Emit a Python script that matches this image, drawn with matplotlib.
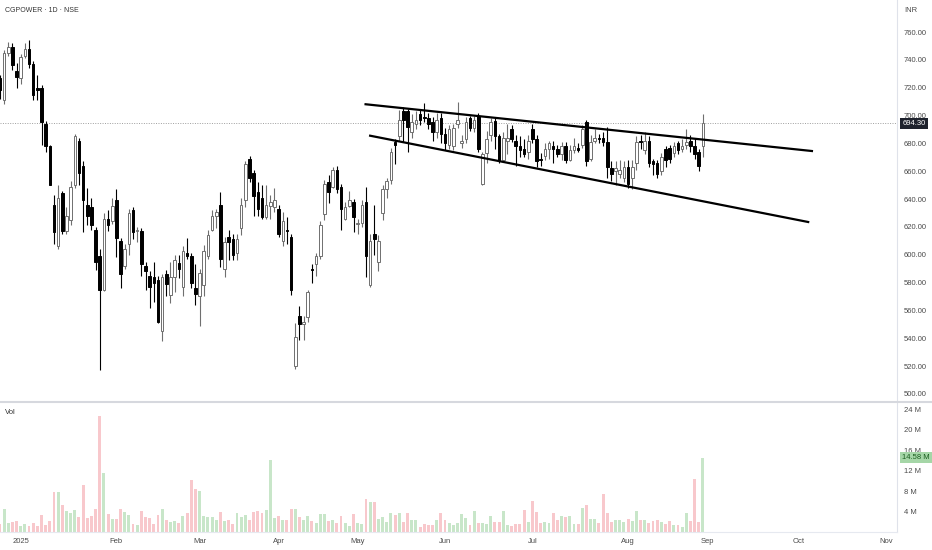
import matplotlib
matplotlib.use("Agg")
from matplotlib import pyplot as plt

plt.rcParams['font.family'] = ['Liberation Sans', 'DejaVu Sans']

# daily candles, index 0 = 1 Jan 2025 (trading days)
first_index = -5
opens = [727, 711, 745, 749, 732, 727, 743, 748, 737, 720, 720, 694, 678, 636, 606, 644, 617, 625, 650, 682,
         664, 636, 634, 618, 599, 575, 626, 624, 639, 610, 592, 608, 632, 617, 617, 592, 585, 584, 582, 545,
         586, 571, 584, 594, 577, 601, 599, 576, 570, 578, 599, 618, 628, 636, 590, 613, 611, 601, 619, 639,
         669, 659, 645, 641, 627, 635, 634, 633, 610, 618, 613, 520, 556, 550, 555, 590, 593, 599, 629, 652,
         649, 661, 649, 626, 635, 638, 622, 623, 638, 578, 615, 595, 630, 647, 654, 681, 685, 703, 703, 688,
         694, 701, 699, 698, 695, 688, 698, 687, 679, 678, 694, 680, 683, 698, 691, 700, 651, 673, 686, 696,
         685, 668, 682, 690, 682, 678, 676, 674, 690, 683, 669, 671, 676, 678, 676, 672, 678, 668, 675, 677,
         679, 695, 669, 682, 684, 684, 681, 662, 660, 658, 655, 663, 655, 666, 682, 675, 682, 667, 666, 660,
         676, 677, 673, 680, 676, 679, 682, 678, 674, 678]
highs = [729, 747, 753, 752, 738, 744, 752, 754, 739, 729, 722, 696, 679, 643, 650, 646, 634, 653, 687, 684,
         667, 648, 641, 620, 604, 630, 632, 641, 647, 612, 608, 633, 634, 620, 619, 595, 588, 595, 585, 586,
         589, 595, 600, 600, 606, 612, 601, 593, 590, 607, 618, 632, 633, 645, 613, 618, 615, 615, 641, 667,
         671, 661, 652, 650, 650, 643, 648, 636, 631, 627, 615, 551, 563, 556, 575, 593, 601, 624, 654, 657,
         663, 664, 651, 638, 646, 640, 626, 639, 649, 615, 636, 614, 650, 655, 677, 683, 704, 706, 705, 701,
         703, 704, 709, 702, 699, 702, 702, 691, 693, 694, 710, 686, 699, 700, 700, 702, 674, 689, 698, 698,
         687, 688, 694, 693, 686, 685, 683, 686, 694, 686, 673, 680, 682, 682, 679, 681, 681, 679, 684, 680,
         693, 697, 686, 690, 687, 688, 692, 667, 667, 668, 667, 668, 668, 685, 686, 688, 685, 669, 668, 673,
         678, 679, 681, 682, 683, 690, 686, 684, 676, 701]
lows = [712, 708, 743, 733, 720, 723, 741, 734, 711, 711, 679, 674, 650, 608, 604, 615, 615, 621, 648, 650,
        616, 621, 618, 589, 517, 574, 617, 622, 598, 576, 590, 600, 611, 609, 585, 575, 562, 566, 551, 538,
        570, 565, 573, 583, 570, 597, 576, 564, 549, 570, 597, 617, 619, 591, 584, 596, 596, 596, 614, 634,
        652, 628, 628, 626, 626, 626, 631, 613, 606, 608, 571, 518, 539, 539, 552, 580, 585, 597, 625, 637,
        648, 644, 618, 625, 634, 616, 615, 620, 584, 577, 600, 588, 625, 641, 651, 665, 682, 681, 674, 684,
        690, 693, 695, 690, 682, 684, 680, 675, 676, 675, 691, 677, 680, 689, 688, 674, 650, 666, 682, 676,
        666, 667, 672, 681, 664, 670, 670, 669, 680, 663, 664, 668, 669, 666, 670, 668, 666, 667, 673, 674,
        677, 664, 667, 680, 680, 678, 655, 653, 650, 655, 652, 648, 647, 661, 676, 672, 663, 657, 655, 657,
        663, 666, 670, 672, 674, 676, 674, 669, 660, 670]
closes = [718, 745, 749, 736, 728, 742, 748, 737, 715, 718, 695, 678, 650, 616, 641, 617, 628, 649, 685, 659,
          639, 628, 621, 595, 575, 626, 621, 635, 612, 586, 604, 630, 616, 618, 593, 588, 577, 580, 552, 584,
          579, 584, 596, 590, 603, 599, 580, 572, 587, 603, 614, 628, 631, 597, 609, 609, 600, 611, 636, 665,
          655, 642, 633, 627, 636, 638, 639, 615, 624, 617, 575, 541, 550, 552, 573, 589, 599, 621, 651, 645,
          661, 647, 633, 634, 639, 627, 623, 636, 599, 610, 611, 610, 647, 653, 674, 679, 697, 697, 692, 695,
          697, 697, 698, 694, 688, 697, 687, 680, 690, 691, 697, 682, 695, 691, 697, 676, 672, 683, 695, 685,
          668, 684, 684, 683, 678, 675, 672, 682, 683, 667, 668, 676, 680, 676, 672, 678, 668, 675, 678, 675,
          690, 667, 681, 684, 683, 681, 663, 658, 662, 661, 663, 651, 663, 681, 681, 682, 666, 665, 658, 670,
          668, 669, 678, 675, 678, 681, 678, 672, 664, 694.3]
volumes = [1.6, 4.6, 1.7, 2.0, 2.2, 1.2, 1.5, 1.2, 1.8, 1.2, 3.3, 1.4, 2.2, 7.8, 7.8, 5.3, 4.2, 3.7, 4.4, 2.9,
           9.2, 2.7, 3.1, 4.5, 22.7, 11.5, 3.5, 2.5, 2.6, 4.6, 3.9, 3.3, 1.6, 1.3, 4.1, 2.9, 2.8, 1.6, 3.3, 4.6,
           2.3, 2.0, 2.1, 1.7, 3.1, 3.8, 10.1, 8.5, 8.0, 3.1, 2.9, 2.9, 2.4, 3.9, 2.2, 2.4, 1.5, 3.8, 2.9, 3.3,
           2.4, 3.9, 4.1, 3.8, 4.3, 14.1, 2.7, 3.1, 2.4, 2.4, 4.5, 4.6, 2.9, 2.3, 3.1, 2.1, 1.7, 3.5, 3.5, 2.1,
           2.4, 1.8, 3.1, 1.8, 1.2, 3.5, 1.7, 1.6, 6.5, 5.9, 5.8, 2.5, 2.9, 2.0, 3.7, 3.3, 3.8, 2.0, 3.7, 2.3,
           2.3, 1.0, 1.5, 1.4, 1.4, 2.4, 3.7, 2.4, 1.8, 1.4, 1.7, 3.5, 2.7, 1.4, 4.2, 1.8, 1.7, 1.6, 3.1, 2.0,
           2.0, 4.2, 1.3, 1.2, 1.6, 1.6, 4.4, 2.0, 6.1, 3.9, 1.8, 2.0, 1.8, 3.7, 2.4, 3.1, 2.9, 3.1, 1.6, 1.6,
           4.7, 5.2, 2.6, 2.6, 1.7, 7.4, 3.7, 2.0, 2.4, 2.4, 2.0, 2.6, 2.1, 4.2, 2.4, 2.4, 1.7, 2.1, 2.4, 2.0,
           1.6, 2.1, 1.3, 1.4, 0.9, 3.7, 2.1, 10.4, 2.0, 14.58]

month_pos = [0, 23, 43, 62, 81, 102, 123, 146, 165, 187, 208]
month_labels = ['2025', 'Feb', 'Mar', 'Apr', 'May', 'Jun', 'Jul', 'Aug', 'Sep', 'Oct', 'Nov']

# drawn channel lines (bar index, price)
upper_line = [(82.9, 708.1), (190.2, 674.5)]
lower_line = [(84.0, 685.5), (189.3, 623.5)]

last_price = 694.30
last_volume = 14.58

W, H = 932, 550
fig = plt.figure(figsize=(W / 100, H / 100), dpi=100)
ax = fig.add_axes([0, (H - 401) / H, 897 / W, 401 / H])
axv = fig.add_axes([0, (H - 532) / H, 897 / W, 130 / H])

xs = list(range(first_index, first_index + len(closes)))
up = [c >= o for o, c in zip(opens, closes)]

for x, o, h, l, c, u in zip(xs, opens, highs, lows, closes, up):
    col = '#6f6f6f' if u else '#000000'
    ax.vlines(x, l, h, color=col, linewidth=0.8, zorder=2)
    bottom = min(o, c)
    height = max(abs(c - o), 0.6)
    ax.bar(x, height, bottom=bottom, width=0.62,
           color='white' if u else 'black', edgecolor=col, linewidth=0.7, zorder=3)

ax.plot([p[0] for p in upper_line], [p[1] for p in upper_line], color='black', linewidth=1.6, zorder=4)
ax.plot([p[0] for p in lower_line], [p[1] for p in lower_line], color='black', linewidth=1.6, zorder=4)
ax.axhline(last_price, color='#9e9e9e', linewidth=0.7, linestyle=(0, (1, 1.5)), zorder=1)

xmin, xmax = -4.98, 210.65
ax.set_xlim(xmin, xmax)
ax.set_ylim(494.9, 783.0)
ax.set_xticks([])
ax.yaxis.tick_right()
ax.set_yticks(range(500, 761, 20))
ax.set_yticklabels([f'{v:.2f}' for v in range(500, 761, 20)])
ax.tick_params(axis='y', length=0, pad=5, labelsize=5.5, labelcolor='#4a4a4a')
for s in ['top', 'left', 'bottom']:
    ax.spines[s].set_visible(False)
ax.spines['right'].set_color('#dfe2ea')

ax.text(1.006, last_price, f'{last_price:.2f}', transform=ax.get_yaxis_transform(),
        fontsize=5.5, color='white', va='center', ha='left',
        bbox=dict(boxstyle='square,pad=0.25', fc='#1e222d', ec='none'))

vcolors = ['#c8e6c9' if u else '#f8c8cc' for u in up]
axv.bar(xs, volumes, width=0.7, color=vcolors)
axv.set_xlim(xmin, xmax)
axv.set_ylim(0, 25.49)
axv.yaxis.tick_right()
axv.set_yticks([4, 8, 12, 16, 20, 24])
axv.set_yticklabels(['4 M', '8 M', '12 M', '16 M', '20 M', '24 M'])
axv.tick_params(axis='y', length=0, pad=5, labelsize=5.5, labelcolor='#4a4a4a')
axv.set_xticks(month_pos)
axv.set_xticklabels(month_labels)
axv.tick_params(axis='x', length=0, pad=4, labelsize=5.5, labelcolor='#4a4a4a')
for s in ['top', 'left']:
    axv.spines[s].set_visible(False)
axv.spines['right'].set_color('#dfe2ea')
axv.spines['bottom'].set_color('#e6e9f0')
axv.text(1.006, last_volume, f'{last_volume:.2f} M', transform=axv.get_yaxis_transform(),
         fontsize=5.5, color='#1b5e20', va='center', ha='left',
         bbox=dict(boxstyle='square,pad=0.25', fc='#a5d6a7', ec='none'))

# pane separator and labels
fig.add_artist(plt.Line2D([0, 1], [(H - 401.5) / H] * 2, color='#d6d8de', linewidth=1.5))
fig.text(5 / W, 1 - 11 / H, 'CGPOWER · 1D · NSE', fontsize=5, color='#333333', va='center')
fig.text(5 / W, 1 - 413 / H, 'Vol', fontsize=5.5, color='#333333', va='center')
fig.text(904 / W, 1 - 11 / H, 'INR', fontsize=5.5, color='#4a4a4a', va='center')

fig.savefig('out.png', dpi=100)
